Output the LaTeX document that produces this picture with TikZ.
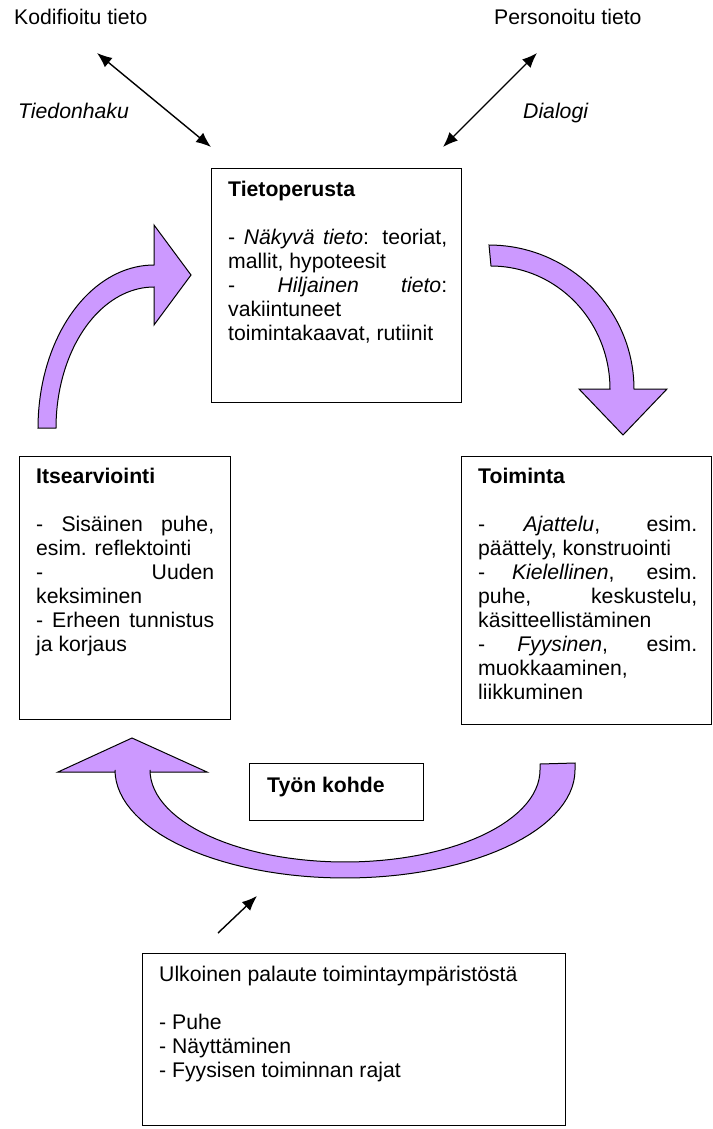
\documentclass[tikz,border=0pt]{standalone}
\usepackage{fontspec}
\setmainfont{Liberation Sans}
\usepackage{tikz}
\usetikzlibrary{arrows.meta}
\definecolor{lila}{HTML}{CC99FF}
\hbadness=10000
\tolerance=10000
\hyphenpenalty=10000

\begin{document}
\begin{tikzpicture}[
        x=1pt, y=-1pt,
        font=\fontsize{21.2}{24}\selectfont,
        kasti/.style={draw, line width=1.2pt, inner sep=0pt, anchor=north west},
        teksti/.style={anchor=base west, inner sep=0pt},
        nuoli/.style={line width=1.4pt, {Latex[length=15pt,width=12pt]}-{Latex[length=15pt,width=12pt]}},
        kaari/.style={draw, fill=lila, line width=1pt}
    ]
    \useasboundingbox (0,0) rectangle (712,1129);

    % ylarivi
    \node[teksti] (kodif) at (14,25) {Kodifioitu tieto};
    \node[teksti] (person) at (494,25) {Personoitu tieto};
    \node[teksti] (haku) at (18,118) {\textit{Tiedonhaku}};
    \node[teksti] (dialogi) at (523,118) {\textit{Dialogi}};

    \coordinate (kodA) at (97,53);
    \coordinate (kodB) at (211,147);
    \coordinate (perA) at (537,53);
    \coordinate (perB) at (443,147);
    \draw [nuoli] (kodA) -- (kodB);
    \draw [nuoli] (perA) -- (perB);

    % laatikot
    \node[kasti, minimum width=250pt, minimum height=234pt] (tieto) at (211,168) {};
    \node[kasti, minimum width=211pt, minimum height=263pt] (itse) at (19,456) {};
    \node[kasti, minimum width=250pt, minimum height=268pt] (toim) at (461,456) {};
    \node[kasti, minimum width=174pt, minimum height=57pt] (kohde) at (249,763) {};
    \node[kasti, minimum width=423pt, minimum height=172pt] (palaute) at (142,953) {};

    \node[teksti] (tietoTxt) at ([shift={(17,28)}]tieto.north west) {\parbox[t]{219pt}{%
        \textbf{Tietoperusta}\par\vspace{24pt}
        - \textit{Näkyvä tieto}: teoriat,\linebreak mallit, hypoteesit\par
        - \textit{Hiljainen tieto}:\linebreak vakiintuneet\newline toimintakaavat, rutiinit}};
    \node[teksti] (itseTxt) at ([shift={(17,27)}]itse.north west) {\parbox[t]{178pt}{%
        \textbf{Itsearviointi}\par\vspace{24pt}
        - Sisäinen puhe,\linebreak esim. reflektointi\par
        - Uuden\linebreak keksiminen\par
        - Erheen tunnistus\linebreak ja korjaus}};
    \node[teksti] (toimTxt) at ([shift={(17,27)}]toim.north west) {\parbox[t]{219pt}{%
        \textbf{Toiminta}\par\vspace{24pt}
        - \textit{Ajattelu}, esim.\linebreak päättely, konstruointi\par
        - \textit{Kielellinen}, esim.\linebreak puhe, keskustelu,\linebreak käsitteellistäminen\par
        - \textit{Fyysinen}, esim.\linebreak muokkaaminen,\newline liikkuminen}};
    \node[teksti] (kohdeTxt) at ([shift={(18,29)}]kohde.north west) {\textbf{Työn kohde}};
    \node[teksti] (palauteTxt) at ([shift={(17,28)}]palaute.north west) {\parbox[t]{400pt}{%
        Ulkoinen palaute toimintaympäristöstä\par\vspace{24pt}
        - Puhe\newline
        - Näyttäminen\newline
        - Fyysisen toiminnan rajat}};

    % kaarinuolet
    \draw [kaari] plot[domain=180:270,samples=40] ({154+116*cos(\x)},{428+163*sin(\x)})
        -- (154,225) -- (191,275) -- (154,325)
        -- plot[domain=270:180,samples=40] ({154+98*cos(\x)},{428+141*sin(\x)}) -- cycle;
    \draw [kaari] plot[domain=270:360,samples=40] ({489+145*cos(\x)},{389+144*sin(\x)})
        -- (667,389) -- (623,435) -- (579,389)
        -- plot[domain=360:270,samples=40] ({491+119*cos(\x)},{389+123*sin(\x)}) -- cycle;
    \draw [kaari] (575,763) -- plot[domain=0:180,samples=60] ({345+230*cos(\x)},{770+108*sin(\x)})
        -- (115,772) -- (58,772) -- (132,738) -- (207,772) -- (150,772)
        -- plot[domain=180:0,samples=60] ({345+195*cos(\x)},{770+92*sin(\x)}) -- (540,764) -- cycle;

    % palaute
    \coordinate (palA) at (218,933);
    \coordinate (palB) at (257,896);
    \draw [line width=1.4pt, -{Latex[length=15pt,width=12pt]}] (palA) -- (palB);
\end{tikzpicture}
\end{document}
